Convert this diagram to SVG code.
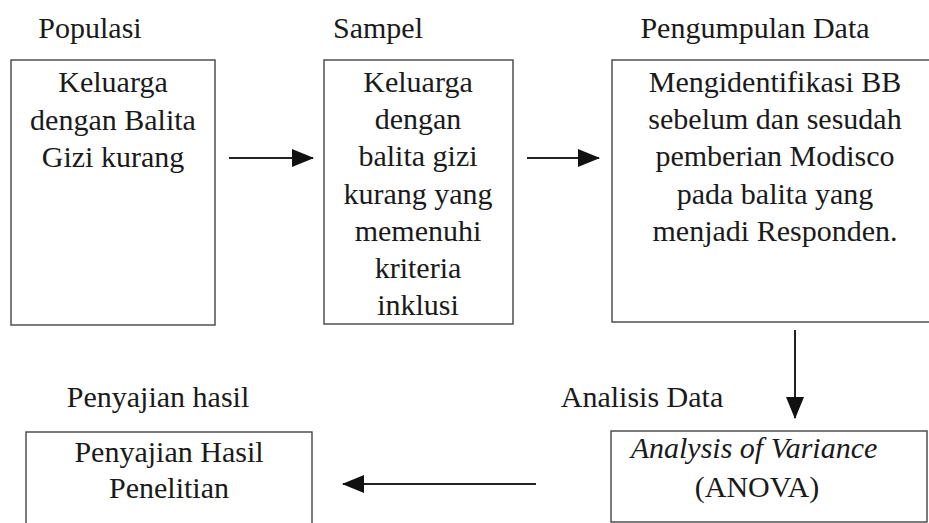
<svg xmlns="http://www.w3.org/2000/svg" width="929" height="523" viewBox="0 0 929 523">
<style>
.t{font-family:"Liberation Serif","Times New Roman",serif;font-size:30px;fill:#1a1a1a;text-anchor:middle}
.i{font-style:italic}
.box{fill:#fff;stroke:#444;stroke-width:1.4}
.ln{stroke:#222;stroke-width:2;fill:none}
</style>
<defs>
<marker id="ah" markerUnits="userSpaceOnUse" markerWidth="22" markerHeight="18" refX="21" refY="9" orient="auto">
<path d="M0,0 L22,9 L0,18 Z" fill="#111"/>
</marker>
</defs>
<rect width="929" height="523" fill="#fff"/>
<g id="populasi">
<text class="t" x="90" y="38">Populasi</text>
<rect class="box" x="11" y="60" width="204" height="265"/>
<text class="t" x="113" y="92">Keluarga</text>
<text class="t" x="113" y="129.5">dengan Balita</text>
<text class="t" x="113" y="167">Gizi kurang</text>
</g>
<g id="sampel">
<text class="t" x="378" y="38">Sampel</text>
<rect class="box" x="324" y="60" width="189" height="264"/>
<text class="t" x="418" y="92">Keluarga</text>
<text class="t" x="418" y="129">dengan</text>
<text class="t" x="418" y="166">balita gizi</text>
<text class="t" x="418" y="204">kurang yang</text>
<text class="t" x="418" y="241">memenuhi</text>
<text class="t" x="418" y="278">kriteria</text>
<text class="t" x="418" y="315">inklusi</text>
</g>
<g id="pengumpulan">
<text class="t" x="755" y="38">Pengumpulan Data</text>
<rect class="box" x="612" y="60" width="330" height="262"/>
<text class="t" x="775" y="92">Mengidentifikasi BB</text>
<text class="t" x="775" y="129">sebelum dan sesudah</text>
<text class="t" x="775" y="166">pemberian Modisco</text>
<text class="t" x="775" y="204">pada balita yang</text>
<text class="t" x="775" y="241">menjadi Responden.</text>
</g>
<g id="analisis">
<text class="t" x="642" y="407">Analisis Data</text>
<rect class="box" x="611" y="431" width="316" height="91"/>
<text class="t i" x="754" y="458">Analysis of Variance</text>
<text class="t" x="757" y="497">(ANOVA)</text>
</g>
<g id="penyajian">
<text class="t" x="158" y="407">Penyajian hasil</text>
<rect class="box" x="26" y="432" width="286" height="92"/>
<text class="t" x="169" y="462">Penyajian Hasil</text>
<text class="t" x="169" y="498">Penelitian</text>
</g>
<g id="connectors">
<line class="ln" x1="229" y1="158" x2="313" y2="158" marker-end="url(#ah)"/>
<line class="ln" x1="527" y1="158" x2="599" y2="158" marker-end="url(#ah)"/>
<line class="ln" x1="795" y1="330" x2="795" y2="418" marker-end="url(#ah)"/>
<line class="ln" x1="536" y1="484" x2="343" y2="484" marker-end="url(#ah)"/>
</g>
</svg>
